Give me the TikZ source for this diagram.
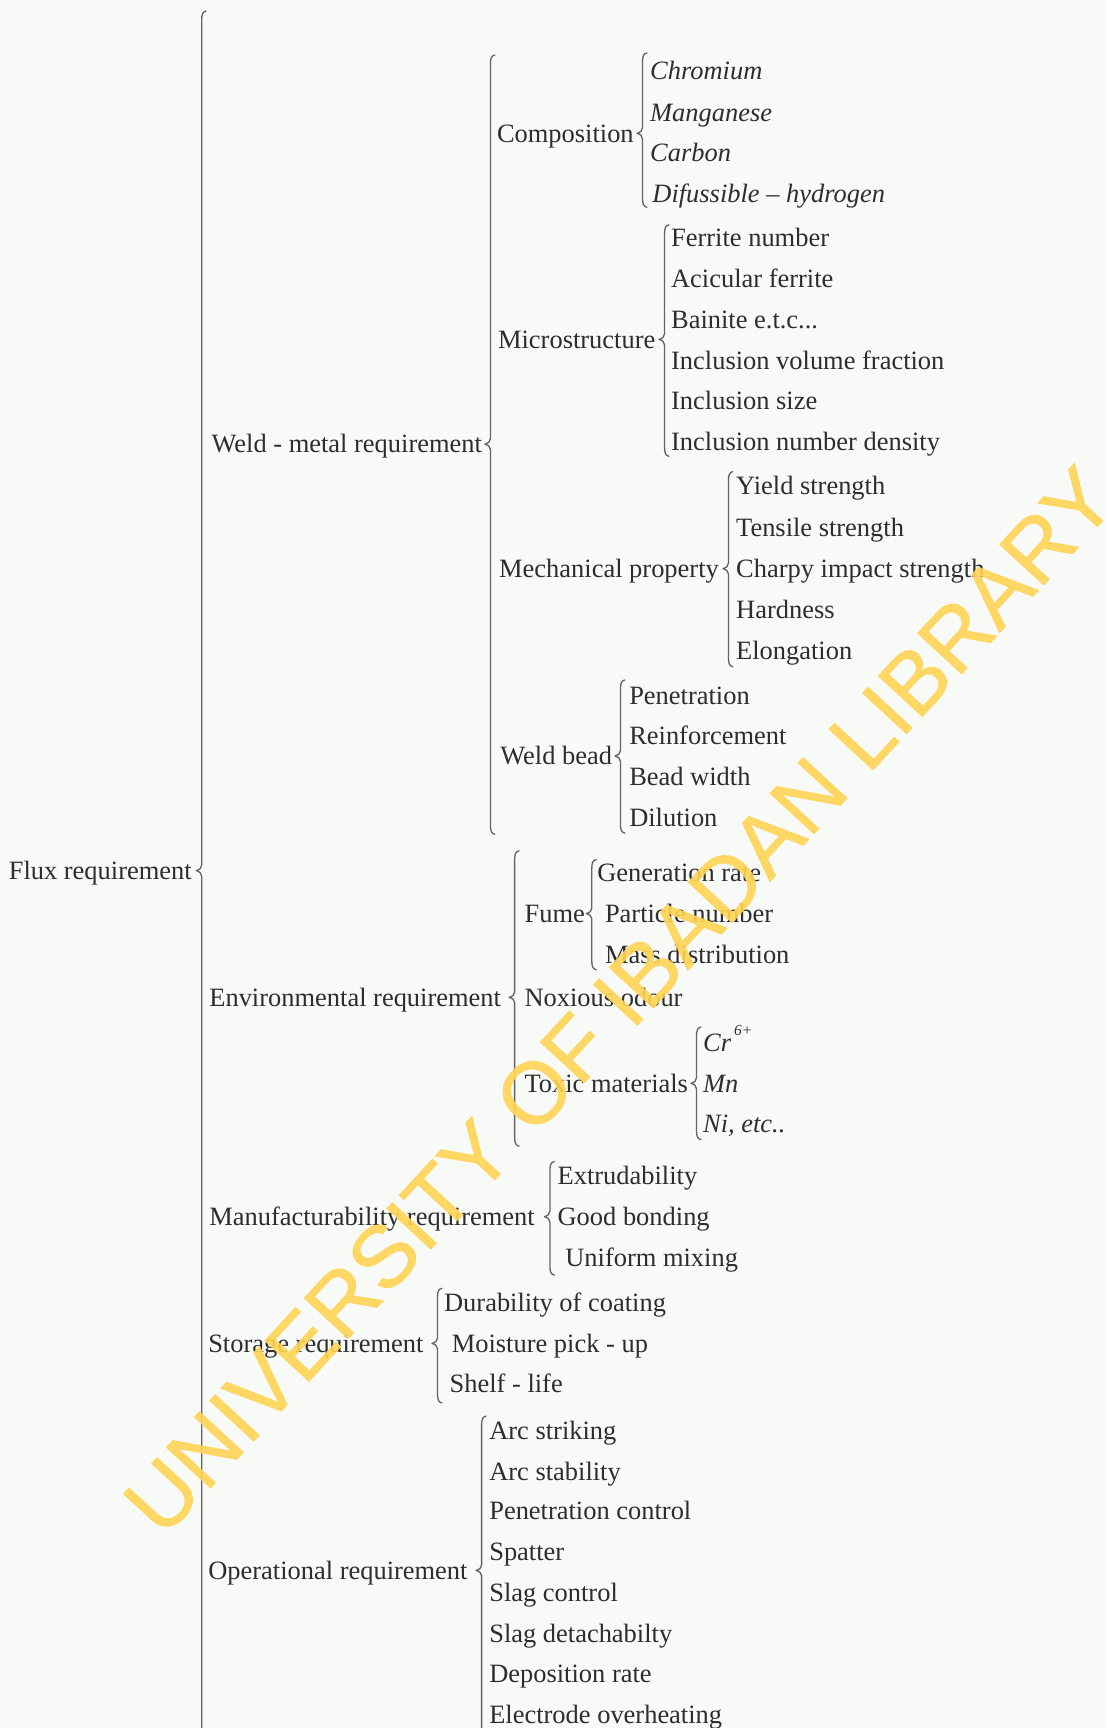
\documentclass[tikz,border=0pt]{standalone}
\usepackage{fontspec}
\setmainfont{Liberation Serif}
\newfontfamily\wmfont[FakeBold=0.8]{Liberation Sans}
\definecolor{bgc}{RGB}{248,250,248}
\definecolor{txt}{RGB}{45,45,45}
\definecolor{brc}{RGB}{100,100,100}
\definecolor{wmy}{RGB}{255,212,85}
\tikzset{
  lbl/.style={anchor=base west, inner sep=0pt, outer sep=0pt, text=txt, font=\fontsize{12}{14}\selectfont},
  iti/.style={lbl, font=\fontsize{12}{14}\selectfont\itshape},
  bracestyle/.style={draw=brc, line width=0.6pt, line cap=round, line join=round},
  wm/.style={text=wmy, opacity=0.9, inner sep=0pt, font=\wmfont\fontsize{39.5}{41}\selectfont}
}
% curly brace: x, top, middle, bottom
\newcommand\cbrace[4]{%
  \draw[bracestyle] (#1+4,#2) .. controls (#1+1,#2+0.5) and (#1,#2+3) .. (#1,#2+8)
    -- (#1,#3-5) .. controls (#1,#3-2) and (#1-2,#3-1) .. (#1-5,#3)
    .. controls (#1-2,#3+1) and (#1,#3+2) .. (#1,#3+5)
    -- (#1,#4-8) .. controls (#1,#4-3) and (#1+1,#4-0.5) .. (#1+4,#4);}
\begin{document}
\begin{tikzpicture}[x=0.5pt,y=-0.5pt]
\fill[bgc] (0,0) rectangle (1004,1568);
\useasboundingbox (0,0) rectangle (1004,1568);

% level 0
\node[lbl] (flux) at (8,798) {Flux requirement};
\cbrace{183}{10}{790}{1590}

% level 1
\node[lbl] (weld) at (192,411) {Weld - metal requirement};
\node[lbl] (env)  at (190,913) {Environmental requirement};
\node[lbl] (man)  at (190,1112) {Manufacturability requirement};
\node[lbl] (sto)  at (189,1227) {Storage requirement};
\node[lbl] (ope)  at (189,1433) {Operational requirement};

% weld-metal
\cbrace{445}{50}{403}{757}
\node[lbl] (comp)  at (451,129) {Composition};
\node[lbl] (micro) at (452,316) {Microstructure};
\node[lbl] (mech)  at (453,524) {Mechanical property};
\node[lbl] (bead)  at (454,694) {Weld bead};

\cbrace{583}{48}{121}{188}
\node[iti] (c1) at (590,72)  {Chromium};
\node[iti] (c2) at (590,110) {Manganese};
\node[iti] (c3) at (590,147) {Carbon};
\node[iti] (c4) at (592,184) {Difussible – hydrogen};

\cbrace{603}{204}{308}{414}
\node[lbl] (m1) at (609,224) {Ferrite number};
\node[lbl] (m2) at (609,261) {Acicular ferrite};
\node[lbl] (m3) at (609,298) {Bainite e.t.c...};
\node[lbl] (m4) at (609,335) {Inclusion volume fraction};
\node[lbl] (m5) at (609,372) {Inclusion size};
\node[lbl] (m6) at (609,409) {Inclusion number density};

\cbrace{661}{428}{516}{605}
\node[lbl] (p1) at (668,449) {Yield strength};
\node[lbl] (p2) at (668,487) {Tensile strength};
\node[lbl] (p3) at (668,524) {Charpy impact strength};
\node[lbl] (p4) at (668,561) {Hardness};
\node[lbl] (p5) at (668,598) {Elongation};

\cbrace{563}{617}{686}{756}
\node[lbl] (b1) at (571,639) {Penetration};
\node[lbl] (b2) at (571,676) {Reinforcement};
\node[lbl] (b3) at (571,713) {Bead width};
\node[lbl] (b4) at (571,750) {Dilution};

% environmental
\cbrace{467}{772}{905}{1040}
\node[lbl] (fume) at (476,837) {Fume};
\node[lbl] (nox)  at (476,913) {Noxious odour};
\node[lbl] (tox)  at (476,991) {Toxic materials};

\cbrace{537}{780}{829}{880}
\node[lbl] (f1) at (542,800) {Generation rate};
\node[lbl] (f2) at (549,837) {Particle number};
\node[lbl] (f3) at (549,874) {Mass distribution};

\cbrace{632}{932}{983}{1034}
\node[iti] (t1) at (638,954)  {Cr\hspace{0.12em}\raisebox{0.6em}{\fontsize{7}{8}\selectfont 6+}};
\node[iti] (t2) at (638,991)  {Mn};
\node[iti] (t3) at (638,1028) {Ni, etc..};

% manufacturability
\cbrace{499}{1054}{1104}{1157}
\node[lbl] (u1) at (506,1075) {Extrudability};
\node[lbl] (u2) at (506,1112) {Good bonding};
\node[lbl] (u3) at (513,1149) {Uniform mixing};

% storage
\cbrace{397}{1169}{1219}{1273}
\node[lbl] (s1) at (403,1190) {Durability of coating};
\node[lbl] (s2) at (410,1227) {Moisture pick - up};
\node[lbl] (s3) at (408,1264) {Shelf - life};

% operational
\cbrace{437}{1285}{1425}{1590}
\node[lbl] (o1) at (444,1306) {Arc striking};
\node[lbl] (o2) at (444,1343) {Arc stability};
\node[lbl] (o3) at (444,1379) {Penetration control};
\node[lbl] (o4) at (444,1416) {Spatter};
\node[lbl] (o5) at (444,1453) {Slag control};
\node[lbl] (o6) at (444,1490) {Slag detachabilty};
\node[lbl] (o7) at (444,1527) {Deposition rate};
\node[lbl] (o8) at (444,1564) {Electrode overheating};

% watermark
\node[wm, rotate=47.3] (wmark) at (562,908) {UNIVERSITY OF IBADAN LIBRARY};
\end{tikzpicture}
\end{document}
